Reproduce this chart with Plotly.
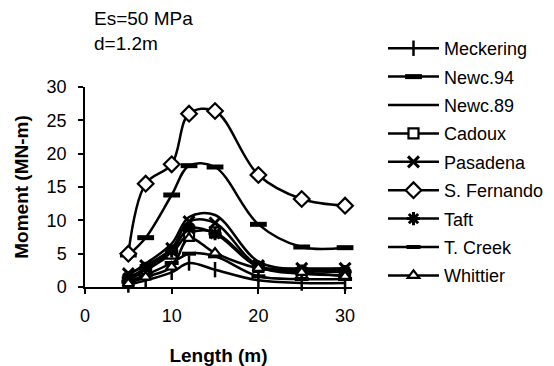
import plotly.graph_objects as go

length_m = [5, 7, 10, 12, 15, 20, 25, 30]
series_names = ["Meckering", "Newc.94", "Newc.89", "Cadoux", "Pasadena",
                "S. Fernando", "Taft", "T. Creek", "Whittier"]
meckering = [0.3, 1.0, 2.2, 3.6, 2.6, 1.0, 0.6, 0.6]
newc94 = [4.8, 7.4, 13.8, 18.2, 18.0, 9.4, 6.0, 5.9]
newc89 = [1.8, 3.5, 6.5, 10.5, 10.8, 3.8, 2.6, 2.6]
cadoux = [1.0, 2.5, 5.0, 8.0, 8.2, 3.0, 2.0, 1.8]
pasadena = [2.0, 3.2, 5.8, 9.8, 9.6, 3.2, 2.8, 2.8]
s_fernando = [5.0, 15.5, 18.4, 26.0, 26.4, 16.8, 13.2, 12.2]
taft = [1.4, 2.8, 5.4, 8.8, 8.0, 3.0, 2.4, 2.3]
t_creek = [0.8, 1.8, 3.6, 5.0, 4.6, 1.6, 1.2, 1.2]
whittier = [0.5, 1.5, 3.0, 7.3, 5.1, 2.8, 2.2, 1.6]
y_ticks = [0, 5, 10, 15, 20, 25, 30]
x_ticks = [0, 10, 20, 30]

values = [meckering, newc94, newc89, cadoux, pasadena, s_fernando, taft, t_creek, whittier]
markers = [
    dict(symbol="line-ns-open", size=11, color="black", line=dict(color="black", width=2.5)),
    dict(symbol="line-ew-open", size=12, color="black", line=dict(color="black", width=5)),
    None,
    dict(symbol="square", size=10, color="white", line=dict(color="black", width=2.2)),
    dict(symbol="x-thin-open", size=11, color="black", line=dict(color="black", width=3)),
    dict(symbol="diamond", size=12, color="white", line=dict(color="black", width=2.2)),
    dict(symbol="asterisk-open", size=11, color="black", line=dict(color="black", width=3)),
    dict(symbol="line-ew-open", size=10, color="black", line=dict(color="black", width=4)),
    dict(symbol="triangle-up", size=10, color="white", line=dict(color="black", width=2.2)),
]

fig = go.Figure()
for name, vals, mk in zip(series_names, values, markers):
    kw = dict(x=length_m, y=vals, name=name, legendgroup=name,
              line=dict(color="black", width=2.5, shape="spline", smoothing=1),
              cliponaxis=False)
    if mk is None:
        kw["mode"] = "lines"
    else:
        kw["mode"] = "lines+markers"
        kw["marker"] = mk
    fig.add_trace(go.Scatter(**kw))

# page body has an 8px default margin, so the figure is offset by 8px
font = "Liberation Sans, Arial, sans-serif"
fig.update_layout(
    width=546, height=358,
    margin=dict(l=77, r=202, t=79, b=79, autoexpand=False),
    paper_bgcolor="white", plot_bgcolor="white",
    font=dict(family=font, size=18, color="black"),
    showlegend=True,
    legend=dict(xref="container", yref="container", x=0.6868, xanchor="left",
                y=0.9385, yanchor="top",
                font=dict(size=18), tracegroupgap=2, itemwidth=51,
                maxheight=350, bgcolor="rgba(0,0,0,0)"),
    xaxis=dict(range=[0, 30.8], tickvals=x_ticks, showgrid=False, zeroline=False,
               automargin=False, tickfont=dict(size=18),
               showline=True, linecolor="black", linewidth=1.5,
               ticks="outside", ticklen=5, tickcolor="black", tickwidth=1.5,
               ticklabelstandoff=7,
               title=dict(text="<b>Length (m)</b>", font=dict(size=19), standoff=23)),
    yaxis=dict(range=[0, 30], tickvals=y_ticks, showgrid=False, zeroline=False,
               automargin=False, tickfont=dict(size=18),
               showline=True, linecolor="black", linewidth=1.5,
               ticks="outside", ticklen=5, tickcolor="black", tickwidth=1.5,
               ticklabelstandoff=8,
               title=dict(text="<b>Moment (MN-m)</b>", font=dict(size=19), standoff=13)),
    annotations=[
        dict(text="Es=50 MPa", xref="paper", yref="paper", x=0.026, y=1.345,
             xanchor="left", yanchor="middle", showarrow=False, font=dict(size=19)),
        dict(text="d=1.2m", xref="paper", yref="paper", x=0.026, y=1.22,
             xanchor="left", yanchor="middle", showarrow=False, font=dict(size=19)),
    ],
)

fig.write_html("out.html")
